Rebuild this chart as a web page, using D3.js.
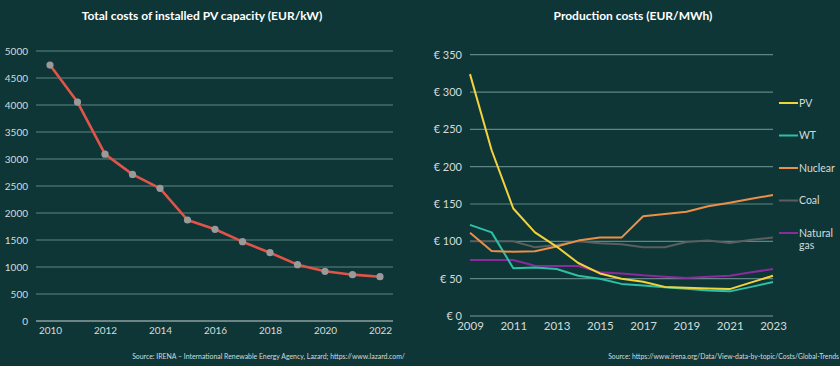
<!DOCTYPE html>
<html>
<head>
<meta charset="utf-8">
<script src="https://cdn.jsdelivr.net/npm/d3@7"></script>
<style>
  html, body { margin: 0; padding: 0; background: #0f3637; }
  svg { display: block; font-family: Lato, "Noto Sans", sans-serif; }
</style>
</head>
<body>
<svg width="840" height="366"></svg>
<script>
// left chart: installed PV capacity costs
const capYears = [2010, 2011, 2012, 2013, 2014, 2015, 2016, 2017, 2018, 2019, 2020, 2021, 2022];
const capCosts = [4740, 4055, 3090, 2715, 2457, 1870, 1698, 1469, 1265, 1043, 920, 858, 820];
const capTicksY = [0, 500, 1000, 1500, 2000, 2500, 3000, 3500, 4000, 4500, 5000];
const capTicksX = [2010, 2012, 2014, 2016, 2018, 2020, 2022];

// right chart: production costs
const prodYears = [2009, 2010, 2011, 2012, 2013, 2014, 2015, 2016, 2017, 2018, 2019, 2020, 2021, 2022, 2023];
const pv = [324, 222, 144, 112, 93, 71, 57, 50, 46, 39, 38, 37, 36, 45, 54];
const wt = [122, 112, 64, 65, 63, 54, 50, 43, 41, 38.5, 36.5, 34, 33, 39, 45.5];
const nuclear = [111.5, 87, 86, 86.6, 93, 101, 105, 105, 133.5, 136.5, 139.7, 147, 151.8, 157, 162];
const coal = [100, 100, 100, 92, 95, 100, 97.4, 96, 92, 92, 99, 101, 97.7, 102, 105];
const gas = [75, 75, 75, 67.4, 67, 67, 58.5, 57, 54.5, 52.7, 51, 52.7, 54, 58.5, 63];
const seriesNames = ['PV', 'WT', 'Nuclear', 'Coal', 'Natural gas'];
const prodTicksY = [0, 50, 100, 150, 200, 250, 300, 350];
const prodTicksX = [2009, 2011, 2013, 2015, 2017, 2019, 2021, 2023];

const colors = ['#f3d33c', '#2cc0a6', '#ee8f47', '#5a5e5f', '#8b2a9c'];
const textCol = '#d3dcdb';
const gridCol = '#5f8683';
const font = 'Lato, "Noto Sans", sans-serif';

const svg = d3.select('svg');

// ---------- left chart ----------
const lx = d3.scaleLinear().domain([2010, 2022]).range([50, 380]);
const ly = d3.scaleLinear().domain([0, 5000]).range([321, 51]);

svg.append('text')
  .attr('x', 202).attr('y', 20)
  .attr('text-anchor', 'middle')
  .attr('fill', '#ffffff').attr('font-size', 12).attr('font-weight', 700)
  .text('Total costs of installed PV capacity (EUR/kW)');

svg.append('g').selectAll('line').data(capTicksY).join('line')
  .attr('x1', 36).attr('x2', 393)
  .attr('y1', d => ly(d)).attr('y2', d => ly(d))
  .attr('stroke', d => d === 0 ? '#c9d3d2' : gridCol)
  .attr('stroke-width', 1.2);

const lAxisY = svg.append('g').attr('transform', 'translate(28,0)')
  .call(d3.axisLeft(ly).tickValues(capTicksY).tickFormat(d3.format('d')).tickSize(0).tickPadding(0));
lAxisY.select('.domain').remove();
lAxisY.selectAll('text').attr('fill', textCol).attr('font-size', 10).attr('font-family', font);

const lAxisX = svg.append('g').attr('transform', 'translate(0,327)')
  .call(d3.axisBottom(lx).tickValues(capTicksX).tickFormat(d3.format('d')).tickSize(0).tickPadding(0));
lAxisX.select('.domain').remove();
lAxisX.selectAll('text').attr('fill', textCol).attr('font-size', 10).attr('font-family', font);

const capData = capYears.map((y, i) => ({ x: y, v: capCosts[i] }));
svg.append('path')
  .datum(capData)
  .attr('fill', 'none')
  .attr('stroke', '#e0544a')
  .attr('stroke-width', 2.6)
  .attr('stroke-linejoin', 'round')
  .attr('d', d3.line().x(d => lx(d.x)).y(d => ly(d.v)));

svg.append('g').selectAll('circle').data(capData).join('circle')
  .attr('cx', d => lx(d.x)).attr('cy', d => ly(d.v))
  .attr('r', 3.6)
  .attr('fill', '#9a9a9a');

svg.append('text')
  .attr('x', 405).attr('y', 359)
  .attr('text-anchor', 'end')
  .attr('fill', textCol).attr('font-size', 6.9)
  .text('Source: IRENA – International Renewable Energy Agency, Lazard; https://www.lazard.com/');

// ---------- right chart ----------
const rx = d3.scaleLinear().domain([2009, 2023]).range([470, 773]);
const ry = d3.scaleLinear().domain([0, 350]).range([316, 54.7]);

svg.append('text')
  .attr('x', 633).attr('y', 20)
  .attr('text-anchor', 'middle')
  .attr('fill', '#ffffff').attr('font-size', 12).attr('font-weight', 700)
  .text('Production costs (EUR/MWh)');

svg.append('g').selectAll('line').data(prodTicksY).join('line')
  .attr('x1', 470).attr('x2', 773)
  .attr('y1', d => ry(d)).attr('y2', d => ry(d))
  .attr('stroke', d => d === 0 ? '#7d9a97' : gridCol)
  .attr('stroke-width', 1.2);

const rAxisY = svg.append('g').attr('transform', 'translate(462,0)')
  .call(d3.axisLeft(ry).tickValues(prodTicksY).tickFormat(d => '€ ' + d).tickSize(0).tickPadding(0));
rAxisY.select('.domain').remove();
rAxisY.selectAll('text').attr('fill', textCol).attr('font-size', 11).attr('font-family', font);

const rAxisX = svg.append('g').attr('transform', 'translate(0,322)')
  .call(d3.axisBottom(rx).tickValues(prodTicksX).tickFormat(d3.format('d')).tickSize(0).tickPadding(0));
rAxisX.select('.domain').remove();
rAxisX.selectAll('text').attr('fill', textCol).attr('font-size', 11.5).attr('font-family', font);

const allSeries = [pv, wt, nuclear, coal, gas];
const drawOrder = [3, 4, 1, 2, 0];
const line = d3.line().x((d, i) => rx(prodYears[i])).y(d => ry(d));
svg.append('g').selectAll('path').data(drawOrder).join('path')
  .attr('fill', 'none')
  .attr('stroke', k => colors[k])
  .attr('stroke-width', 2)
  .attr('stroke-linejoin', 'round')
  .attr('d', k => line(allSeries[k]));

// legend
const leg = svg.append('g').selectAll('g').data(seriesNames).join('g')
  .attr('transform', (d, i) => `translate(779,${103 + i * 32.5})`);
leg.append('line')
  .attr('x1', 0).attr('x2', 19)
  .attr('stroke', (d, i) => colors[i]).attr('stroke-width', 2);
leg.append('text')
  .attr('x', 20).attr('y', 3.8)
  .attr('fill', textCol).attr('font-size', 10.5)
  .selectAll('tspan')
  .data(d => d === 'Natural gas' ? ['Natural', 'gas'] : [d])
  .join('tspan')
  .attr('x', 20)
  .attr('dy', (d, i) => i === 0 ? 0 : 11.7)
  .text(d => d);

svg.append('text')
  .attr('x', 839).attr('y', 359)
  .attr('text-anchor', 'end')
  .attr('fill', textCol).attr('font-size', 6.8)
  .text('Source: https://www.irena.org/Data/View-data-by-topic/Costs/Global-Trends');
</script>
</body>
</html>
